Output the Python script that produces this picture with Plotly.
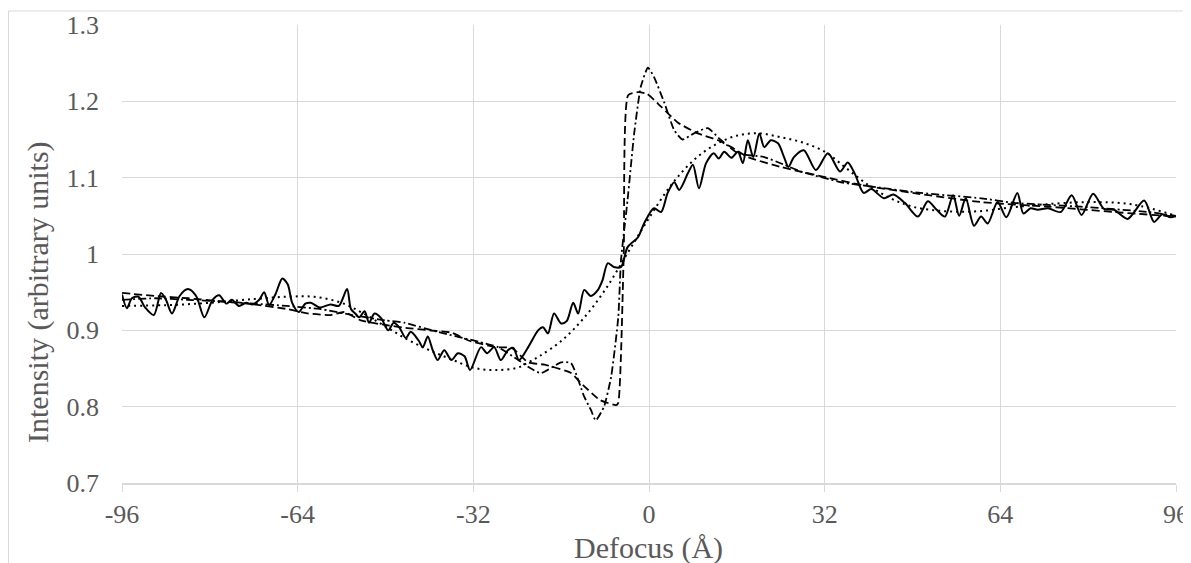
import plotly.graph_objects as go

# Measured (solid, noisy) profile
meas_x = [-96, -95.1, -94.2, -93, -91.8, -90.2, -88.9, -88, -86.9, -85.5, -84, -82.5, -81, -79.5,
          -78.3, -77, -76, -74.7, -73.4, -72.2, -71, -70.1, -69.2, -68, -66.8, -65.8, -65, -63.8,
          -62.6, -61.6, -60, -58, -56.5, -55, -54.3, -53.5, -52.8, -51.8, -51, -50, -48.8, -47.5,
          -46.5, -45.5, -44.3, -43.4, -42, -41.2, -40.3, -39.4, -38.5, -37.3, -36, -34.8, -33.6,
          -32.6, -30.6, -29.5, -28.2, -27, -25.7, -24.7, -23.7, -22, -20.2, -19.3, -18.4, -17.3,
          -16, -15, -13.8, -12.9, -11.8, -10.6, -9.3, -8.5, -7.5, -6.4, -5.1, -3.9, -2, -0.9, 0.9,
          2.2, 3.4, 4.6, 5.5, 7.1, 8, 9.1, 10.4, 11.8, 12.7, 13.7, 15, 16.2, 17.1, 18, 19, 20.1, 21,
          22.2, 23.5, 24.6, 25.4, 26.4, 28.2, 30.4, 32.6, 34.8, 36.2, 37.5, 39.1, 40.5, 42.8, 44.5,
          46.6, 49, 50.8, 52.4, 53.9, 55.4, 56.5, 57.7, 59.2, 60.5, 61.7, 63.5, 65.1, 67.1, 68.2,
          69.5, 70.8, 72.7, 75, 77, 78.8, 80.9, 82.9, 84.7, 87.2, 90.2, 92, 93.5, 95, 96]
meas_y = [0.947, 0.929, 0.942, 0.944, 0.93, 0.92, 0.949, 0.94, 0.922, 0.945, 0.954, 0.945, 0.917, 0.94,
          0.946, 0.935, 0.94, 0.932, 0.936, 0.934, 0.94, 0.95, 0.933, 0.948, 0.968, 0.96, 0.936, 0.924,
          0.935, 0.936, 0.93, 0.934, 0.932, 0.954, 0.928, 0.922, 0.917, 0.925, 0.91, 0.922, 0.916, 0.9,
          0.91, 0.904, 0.89, 0.898, 0.887, 0.878, 0.892, 0.874, 0.861, 0.874, 0.861, 0.87, 0.866,
          0.848, 0.878, 0.87, 0.878, 0.861, 0.874, 0.877, 0.861, 0.878, 0.9, 0.904, 0.896, 0.922,
          0.909, 0.912, 0.936, 0.922, 0.953, 0.945, 0.953, 0.965, 0.988, 0.983, 0.983, 1.009, 1.022, 1.04, 1.06,
          1.055, 1.08, 1.094, 1.084, 1.106, 1.117, 1.086, 1.119, 1.132, 1.125, 1.134, 1.126, 1.134, 1.119, 1.149, 1.127, 1.158, 1.14,
          1.149, 1.145, 1.127, 1.114, 1.127, 1.136, 1.11, 1.132, 1.108, 1.12, 1.105, 1.08, 1.085, 1.073, 1.078,
          1.067, 1.049, 1.069, 1.058, 1.049, 1.077, 1.05, 1.073, 1.037, 1.049, 1.04, 1.068, 1.048, 1.08, 1.053,
          1.06, 1.058, 1.06, 1.055, 1.077, 1.051, 1.079, 1.059, 1.058, 1.046, 1.07, 1.042, 1.052, 1.048, 1.05]

# Smooth model (dotted)
dot_x = [-96, -88, -80, -72, -66, -61, -56, -52, -48, -44, -40, -36, -32, -28, -24, -22, -20, -16,
         -12, -8, -4, 0, 4, 8, 12, 16, 20, 24, 28, 32, 36, 40, 44, 48, 54, 60, 66, 72, 80, 88, 96]
dot_y = [0.932, 0.933, 0.936, 0.941, 0.944, 0.944, 0.936, 0.922, 0.905, 0.888, 0.874, 0.862, 0.851,
         0.848, 0.851, 0.858, 0.866, 0.886, 0.915, 0.953, 1.0, 1.047, 1.09, 1.122, 1.143, 1.155, 1.158,
         1.153, 1.146, 1.134, 1.112, 1.09, 1.073, 1.062, 1.056, 1.056, 1.061, 1.065, 1.068, 1.065, 1.05]

# Model A (dashed)
dash_x = [-96, -90, -84, -78, -72, -66, -62, -58, -55.5, -52.5, -48, -44, -40, -36, -33, -28, -25,
          -22, -19, -17, -14.2, -12.4, -9, -6, -5.6, -4.6, -3.8, -2, -0.4, 2.2, 5.3, 8.9, 12.6, 15,
          18, 24, 32.6, 39, 48, 60.5, 72.7, 84.7, 96]
dash_y = [0.949, 0.945, 0.942, 0.938, 0.934, 0.928, 0.922, 0.92, 0.924, 0.913, 0.907, 0.903, 0.9,
          0.897, 0.887, 0.878, 0.877, 0.858, 0.855, 0.851, 0.844, 0.831, 0.809, 0.802, 0.805, 1.0,
          1.208, 1.212, 1.21, 1.193, 1.172, 1.158, 1.149, 1.14, 1.127, 1.114, 1.1, 1.09, 1.08, 1.068,
          1.062, 1.055, 1.049]

# Model B (dash-dot)
dd_x = [-96, -90, -84, -78, -72, -66, -60, -54, -48, -44.6, -38.5, -31, -27.5, -24, -21.5, -19.7,
        -16, -14.2, -11.8, -10.6, -9.7, -8.2, -6.9, -5.6, -5.1, -3.9, -2.7, -1.5, -0.2, 0.9, 2.8,
        4.6, 6.1, 8.2, 10.7, 13, 16.2, 21, 24.6, 27.7, 35, 42, 49.5, 60.5, 66.5, 78.7, 91, 96]
dd_y = [0.94, 0.942, 0.94, 0.938, 0.935, 0.932, 0.928, 0.92, 0.913, 0.91, 0.898, 0.885, 0.878,
        0.862, 0.85, 0.844, 0.858, 0.857, 0.813, 0.796, 0.782, 0.8, 0.839, 0.917, 0.992, 1.071,
        1.158, 1.219, 1.244, 1.232, 1.198, 1.162, 1.15, 1.158, 1.165, 1.15, 1.132, 1.127, 1.117,
        1.108, 1.094, 1.087, 1.08, 1.073, 1.067, 1.062, 1.055, 1.05]

x_ticks = [-96, -64, -32, 0, 32, 64, 96]
x_tick_text = ["-96", "-64", "-32", "0", "32", "64", "96"]
y_ticks = [0.7, 0.8, 0.9, 1.0, 1.1, 1.2, 1.3]
y_tick_text = ["0.7", "0.8", "0.9", "1", "1.1", "1.2", "1.3"]

fig = go.Figure()
fig.add_trace(go.Scatter(x=dot_x, y=dot_y, mode="lines", name="Model",
                         line=dict(color="black", width=2, dash="2px,4px", shape="spline", smoothing=1)))
fig.add_trace(go.Scatter(x=dash_x, y=dash_y, mode="lines", name="Model A",
                         line=dict(color="black", width=1.8, dash="8px,4px", shape="spline", smoothing=0.5)))
fig.add_trace(go.Scatter(x=dd_x, y=dd_y, mode="lines", name="Model B",
                         line=dict(color="black", width=1.8, dash="8px,3px,2px,3px", shape="spline", smoothing=0.5)))
fig.add_trace(go.Scatter(x=meas_x, y=meas_y, mode="lines", name="Measured",
                         line=dict(color="black", width=2, shape="spline", smoothing=0.8)))

font_family = "Liberation Serif, Times New Roman, serif"
# page has an 8px body margin; figure coordinates = page coordinates - 8
OFF = 8
FW, FH = 1191, 563
L, R, T, B = 122 - OFF, 1176 - OFF, 25 - OFF, 483 - OFF
W, H = R - L, B - T
fig.update_layout(
    width=FW, height=FH,
    margin=dict(l=L, r=FW - R, t=T, b=FH - B, autoexpand=False),
    paper_bgcolor="white", plot_bgcolor="white",
    showlegend=False,
    font=dict(family=font_family, color="#595959", size=26),
    shapes=[dict(type="rect", xref="paper", yref="paper",
                 x0=(0.5 - L) / W, x1=(FW + 30 - L) / W,
                 y0=(B - FH - 30) / H, y1=(B - (11 - OFF)) / H,
                 line=dict(color="#d9d9d9", width=1), fillcolor="rgba(0,0,0,0)", layer="below")],
    annotations=[
        dict(text="Defocus (Å)", xref="paper", yref="paper", x=(648 - OFF - L) / W,
             y=(B - (548 - OFF)) / H,
             showarrow=False, xanchor="center", yanchor="middle",
             font=dict(size=30, color="#595959", family=font_family)),
        dict(text="Intensity (arbitrary units)", xref="paper", yref="paper", x=(38 - OFF - L) / W,
             y=(B - (292 - OFF)) / H,
             showarrow=False, xanchor="center", yanchor="middle", textangle=-90,
             font=dict(size=30, color="#595959", family=font_family)),
    ],
)
fig.update_xaxes(range=[-96, 96], tickvals=x_ticks, ticktext=x_tick_text, showgrid=True,
                 gridcolor="#d9d9d9", gridwidth=1, automargin=False,
                 zeroline=False, showline=True, linecolor="#d9d9d9", linewidth=1.5,
                 ticks="outside", ticklen=7, tickcolor="#d9d9d9",
                 tickfont=dict(size=26, color="#595959", family=font_family))
fig.update_yaxes(range=[0.7, 1.3], tickvals=y_ticks, ticktext=y_tick_text, showgrid=True,
                 gridcolor="#d9d9d9", gridwidth=1, zeroline=False, showline=False, ticks="",
                 automargin=False, ticklabelstandoff=22,
                 tickfont=dict(size=26, color="#595959", family=font_family))

fig.write_html("out.html")
